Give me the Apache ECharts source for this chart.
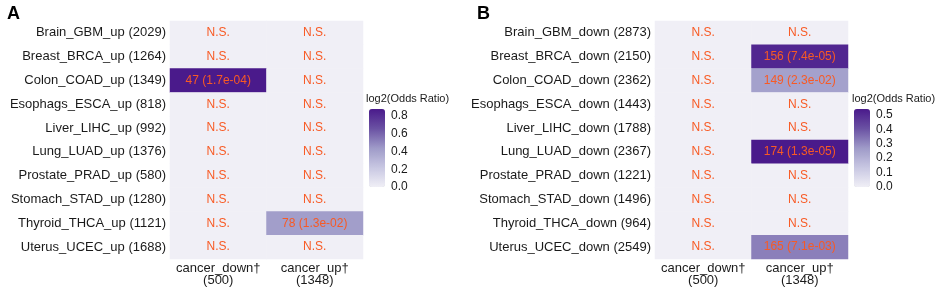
<!DOCTYPE html>
<html>
<head>
<meta charset="utf-8">
<script src="https://cdn.jsdelivr.net/npm/echarts@6/dist/echarts.min.js"></script>
<style>
html, body { margin: 0; padding: 0; background: #fff; }
#container { width: 941px; height: 288px; }
</style>
</head>
<body>
<div id="container"></div>
<script>
// columns (shared by both panels)
var cols = ['cancer_down\u2020\n(500)', 'cancer_up\u2020\n(1348)'];

// panel A
var rowsA = ['Brain_GBM_up (2029)', 'Breast_BRCA_up (1264)', 'Colon_COAD_up (1349)', 'Esophags_ESCA_up (818)',
	'Liver_LIHC_up (992)', 'Lung_LUAD_up (1376)', 'Prostate_PRAD_up (580)', 'Stomach_STAD_up (1280)',
	'Thyroid_THCA_up (1121)', 'Uterus_UCEC_up (1688)'];
// log2(odds ratio) per row: [cancer_down, cancer_up]
var valsA = [[0, 0], [0, 0], [0.88, 0], [0, 0], [0, 0], [0, 0], [0, 0], [0, 0], [0, 0.42], [0, 0]];
var textA = [['N.S.', 'N.S.'], ['N.S.', 'N.S.'], ['47 (1.7e-04)', 'N.S.'], ['N.S.', 'N.S.'], ['N.S.', 'N.S.'],
	['N.S.', 'N.S.'], ['N.S.', 'N.S.'], ['N.S.', 'N.S.'], ['N.S.', '78 (1.3e-02)'], ['N.S.', 'N.S.']];
var maxA = 0.88;

// panel B
var rowsB = ['Brain_GBM_down (2873)', 'Breast_BRCA_down (2150)', 'Colon_COAD_down (2362)', 'Esophags_ESCA_down (1443)',
	'Liver_LIHC_down (1788)', 'Lung_LUAD_down (2367)', 'Prostate_PRAD_down (1221)', 'Stomach_STAD_down (1496)',
	'Thyroid_THCA_down (964)', 'Uterus_UCEC_down (2549)'];
var valsB = [[0, 0], [0, 0.51], [0, 0.25], [0, 0], [0, 0], [0, 0.54], [0, 0], [0, 0], [0, 0], [0, 0.32]];
var textB = [['N.S.', 'N.S.'], ['N.S.', '156 (7.4e-05)'], ['N.S.', '149 (2.3e-02)'], ['N.S.', 'N.S.'], ['N.S.', 'N.S.'],
	['N.S.', '174 (1.3e-05)'], ['N.S.', 'N.S.'], ['N.S.', 'N.S.'], ['N.S.', 'N.S.'], ['N.S.', '165 (7.1e-03)']];
var maxB = 0.54;

var font = 'Liberation Sans, Arial, sans-serif';
var ramp = ['#f0eff6', '#c8c7e2', '#9e9ac8', '#6a51a3', '#4a1a8b'];

function toCells(vals, texts) {
	var out = [];
	for (var r = 0; r < vals.length; r++) {
		for (var c = 0; c < vals[r].length; c++) {
			out.push({ value: [c, r, vals[r][c]], txt: texts[r][c] });
		}
	}
	return out;
}

function heatAxes(idx, rows) {
	return {
		x: {
			type: 'category', gridIndex: idx, data: cols, position: 'bottom',
			axisLine: { show: false }, axisTick: { show: false }, splitLine: { show: false },
			axisLabel: { interval: 0, color: '#1a1a1a', fontSize: 13, fontFamily: font, margin: 3, lineHeight: 12 }
		},
		y: {
			type: 'category', gridIndex: idx, data: rows, inverse: true,
			axisLine: { show: false }, axisTick: { show: false }, splitLine: { show: false },
			axisLabel: { interval: 0, color: '#1a1a1a', fontSize: 13, fontFamily: font, margin: 4 }
		}
	};
}

function barAxes(idx, max) {
	return {
		x: { type: 'value', gridIndex: idx, show: false },
		y: {
			type: 'value', gridIndex: idx, min: 0, max: max, interval: 0.1 * (max > 0.6 ? 2 : 1),
			position: 'right',
			axisLine: { show: false }, axisTick: { show: false }, splitLine: { show: false },
			axisLabel: {
				color: '#1a1a1a', fontSize: 12, fontFamily: font, margin: 6, showMaxLabel: false,
				formatter: function (v) { return v.toFixed(1); }
			}
		}
	};
}

var dom = document.getElementById('container');
var myChart = echarts.init(dom, null, { renderer: 'canvas' });

var hA = heatAxes(0, rowsA), hB = heatAxes(1, rowsB);
var bA = barAxes(2, maxA), bB = barAxes(3, maxB);

function heatSeries(idx, cells) {
	return {
		type: 'heatmap', xAxisIndex: idx, yAxisIndex: idx, data: cells,
		label: {
			show: true, color: '#f85a24', fontSize: 12, fontFamily: font,
			formatter: function (p) { return p.data.txt; }
		},
		itemStyle: { borderWidth: 0 },
		emphasis: { disabled: true }
	};
}

var option = {
	backgroundColor: '#ffffff',
	animation: false,
	title: [
		{ text: 'A', left: 2, top: 0, textStyle: { fontSize: 18, fontWeight: 'bold', fontFamily: font, color: '#000' } },
		{ text: 'B', left: 472, top: 0, textStyle: { fontSize: 18, fontWeight: 'bold', fontFamily: font, color: '#000' } },
		{ text: 'log2(Odds Ratio)', left: 366, top: 93, padding: 0, textStyle: { fontSize: 11, fontWeight: 'normal', fontFamily: font, color: '#1a1a1a' } },
		{ text: 'log2(Odds Ratio)', left: 852, top: 93, padding: 0, textStyle: { fontSize: 11, fontWeight: 'normal', fontFamily: font, color: '#1a1a1a' } }
	],
	grid: [
		{ left: 170, top: 21, width: 193, height: 238 },
		{ left: 655, top: 21, width: 193, height: 238 },
		{ left: 369, top: 109, width: 16, height: 78 },
		{ left: 854, top: 109, width: 16, height: 78 }
	],
	xAxis: [hA.x, hB.x, bA.x, bB.x],
	yAxis: [hA.y, hB.y, bA.y, bB.y],
	visualMap: [
		{
			type: 'continuous', seriesIndex: 0, min: 0, max: maxA, calculable: false, text: null,
			orient: 'vertical', left: 369, top: 109, itemWidth: 16, itemHeight: 78, padding: 0,
			showLabel: false, inRange: { color: ramp }
		},
		{
			type: 'continuous', seriesIndex: 1, min: 0, max: maxB, calculable: false, text: null,
			orient: 'vertical', left: 854, top: 109, itemWidth: 16, itemHeight: 78, padding: 0,
			showLabel: false, inRange: { color: ramp }
		}
	],
	series: [
		heatSeries(0, toCells(valsA, textA)),
		heatSeries(1, toCells(valsB, textB))
	]
};

myChart.setOption(option, true);
</script>
</body>
</html>
